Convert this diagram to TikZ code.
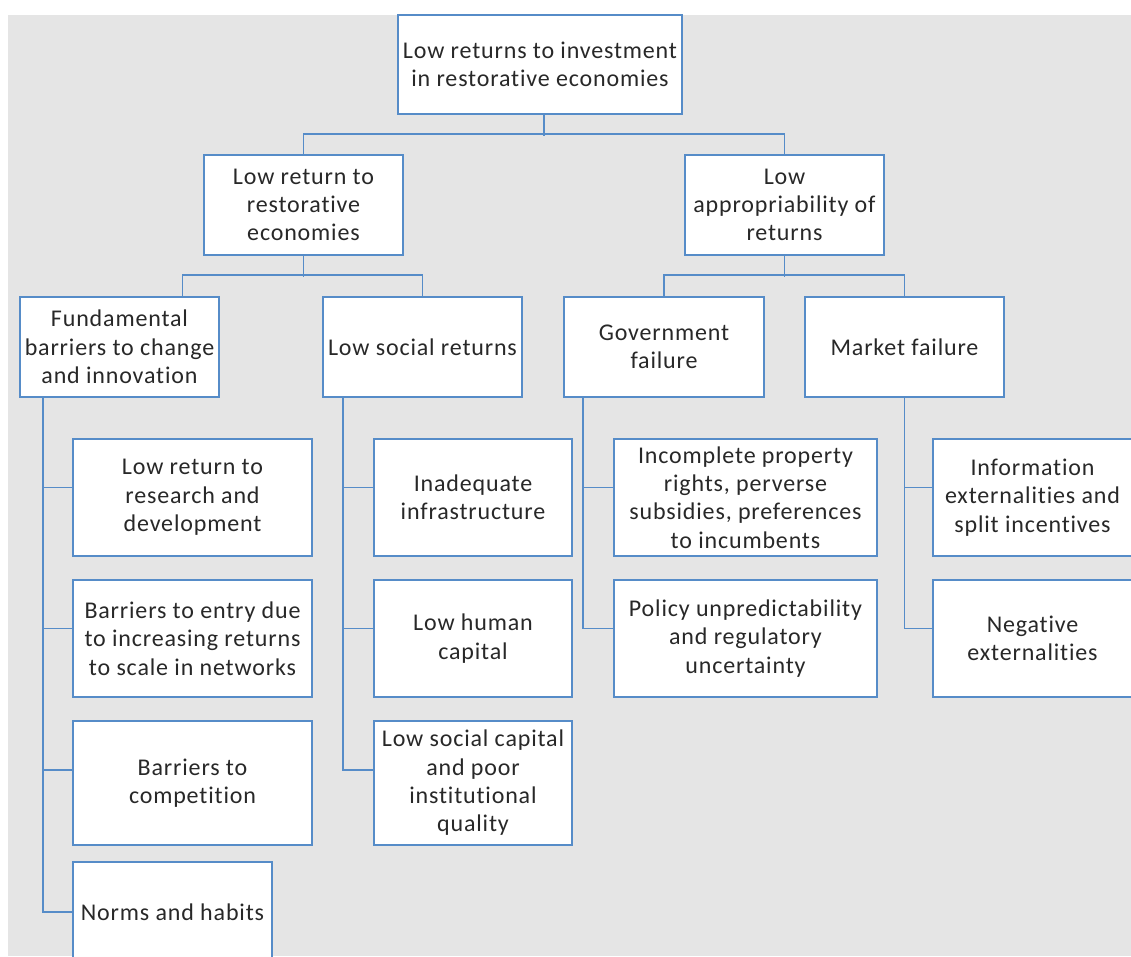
\documentclass[tikz,border=0pt]{standalone}
\usepackage{fontspec}
\setmainfont{Carlito}[LetterSpace=3.5, Ligatures=NoCommon]
\definecolor{panel}{RGB}{229,229,229}
\definecolor{edge}{RGB}{86,140,200}
\definecolor{ink}{RGB}{40,40,40}
\begin{document}
\begin{tikzpicture}[x=1pt,y=-1pt,
  box/.style={draw=edge, line width=1.8pt, fill=white, align=center,
    inner sep=2pt, text=ink, font=\fontsize{24}{28.3}\selectfont,
    minimum width=199pt, minimum height=100pt},
  link/.style={draw=edge, line width=1.8pt}]
\useasboundingbox (0,0) rectangle (1131,956);
\fill[panel] (8,15) rectangle (1131,956);

% root and first level
\node[box, minimum width=284pt, minimum height=99pt] (top) at (540,64.5)
  {Low returns to investment\\in restorative economies};
\node[box] (ret) at (303.5,205) {Low return to\\restorative\\economies};
\node[box] (app) at (784.5,205) {Low\\appropriability of\\returns};

% second level
\node[box] (fund)   at (119.5,347) {Fundamental\\barriers to change\\and innovation};
\node[box] (social) at (422.5,347) {Low social returns};
\node[box, minimum width=200pt] (gov) at (664,347) {Government\\failure};
\node[box] (market) at (904.5,347) {Market failure};

% fundamental barriers
\node[box, minimum width=239pt, minimum height=117pt] (rd)    at (192.5,497.5) {Low return to\\research and\\development};
\node[box, minimum width=239pt, minimum height=117pt] (entry) at (192.5,638.5) {Barriers to entry due\\to increasing returns\\to scale in networks};
\node[box, minimum width=239pt, minimum height=124pt] (comp)  at (192.5,783) {Barriers to\\competition};
\node[box] (norms) at (172.5,912) {Norms and habits};

% social returns
\node[box, minimum width=198pt, minimum height=117pt] (infra) at (473,497.5) {Inadequate\\infrastructure};
\node[box, minimum width=198pt, minimum height=117pt] (human) at (473,638.5) {Low human\\capital};
\node[box, minimum width=198pt, minimum height=124pt] (socap) at (473,783) {Low social capital\\and poor\\institutional\\quality};

% government failure
\node[box, minimum width=263pt, minimum height=117pt] (prop)   at (745.5,497.5) {Incomplete property\\rights, perverse\\subsidies, preferences\\to incumbents};
\node[box, minimum width=263pt, minimum height=117pt] (policy) at (745.5,638.5) {Policy unpredictability\\and regulatory\\uncertainty};

% market failure
\node[box, minimum height=117pt] (info) at (1032.5,497.5) {Information\\externalities and\\split incentives};
\node[box, minimum height=117pt] (neg)  at (1032.5,638.5) {Negative\\externalities};

% tree connectors
\draw[link] ([xshift=4pt]top.south) -- ++(0,21);
\draw[link] (ret.north) -- ++(0,-20) -| (app.north);
\draw[link] (ret.south) -- ++(0,21);
\draw[link] ([xshift=63pt]fund.north) -- ++(0,-21) -| (social.north);
\draw[link] (app.south) -- ++(0,21);
\draw[link] (gov.north) -- ++(0,-21) -| (market.north);

% side trunks
\draw[link] ([xshift=24pt]fund.south west) |- ([yshift=10pt]rd.west);
\draw[link] ([xshift=24pt]fund.south west) |- ([yshift=10pt]entry.west);
\draw[link] ([xshift=24pt]fund.south west) |- ([yshift=13pt]comp.west);
\draw[link] ([xshift=24pt]fund.south west) |- (norms.west);

\draw[link] ([xshift=21pt]social.south west) |- ([yshift=10pt]infra.west);
\draw[link] ([xshift=21pt]social.south west) |- ([yshift=10pt]human.west);
\draw[link] ([xshift=21pt]social.south west) |- ([yshift=13pt]socap.west);

\draw[link] ([xshift=20pt]gov.south west) |- ([yshift=10pt]prop.west);
\draw[link] ([xshift=20pt]gov.south west) |- ([yshift=10pt]policy.west);

\draw[link] (market.south) |- ([yshift=10pt]info.west);
\draw[link] (market.south) |- ([yshift=10pt]neg.west);
\end{tikzpicture}
\end{document}
